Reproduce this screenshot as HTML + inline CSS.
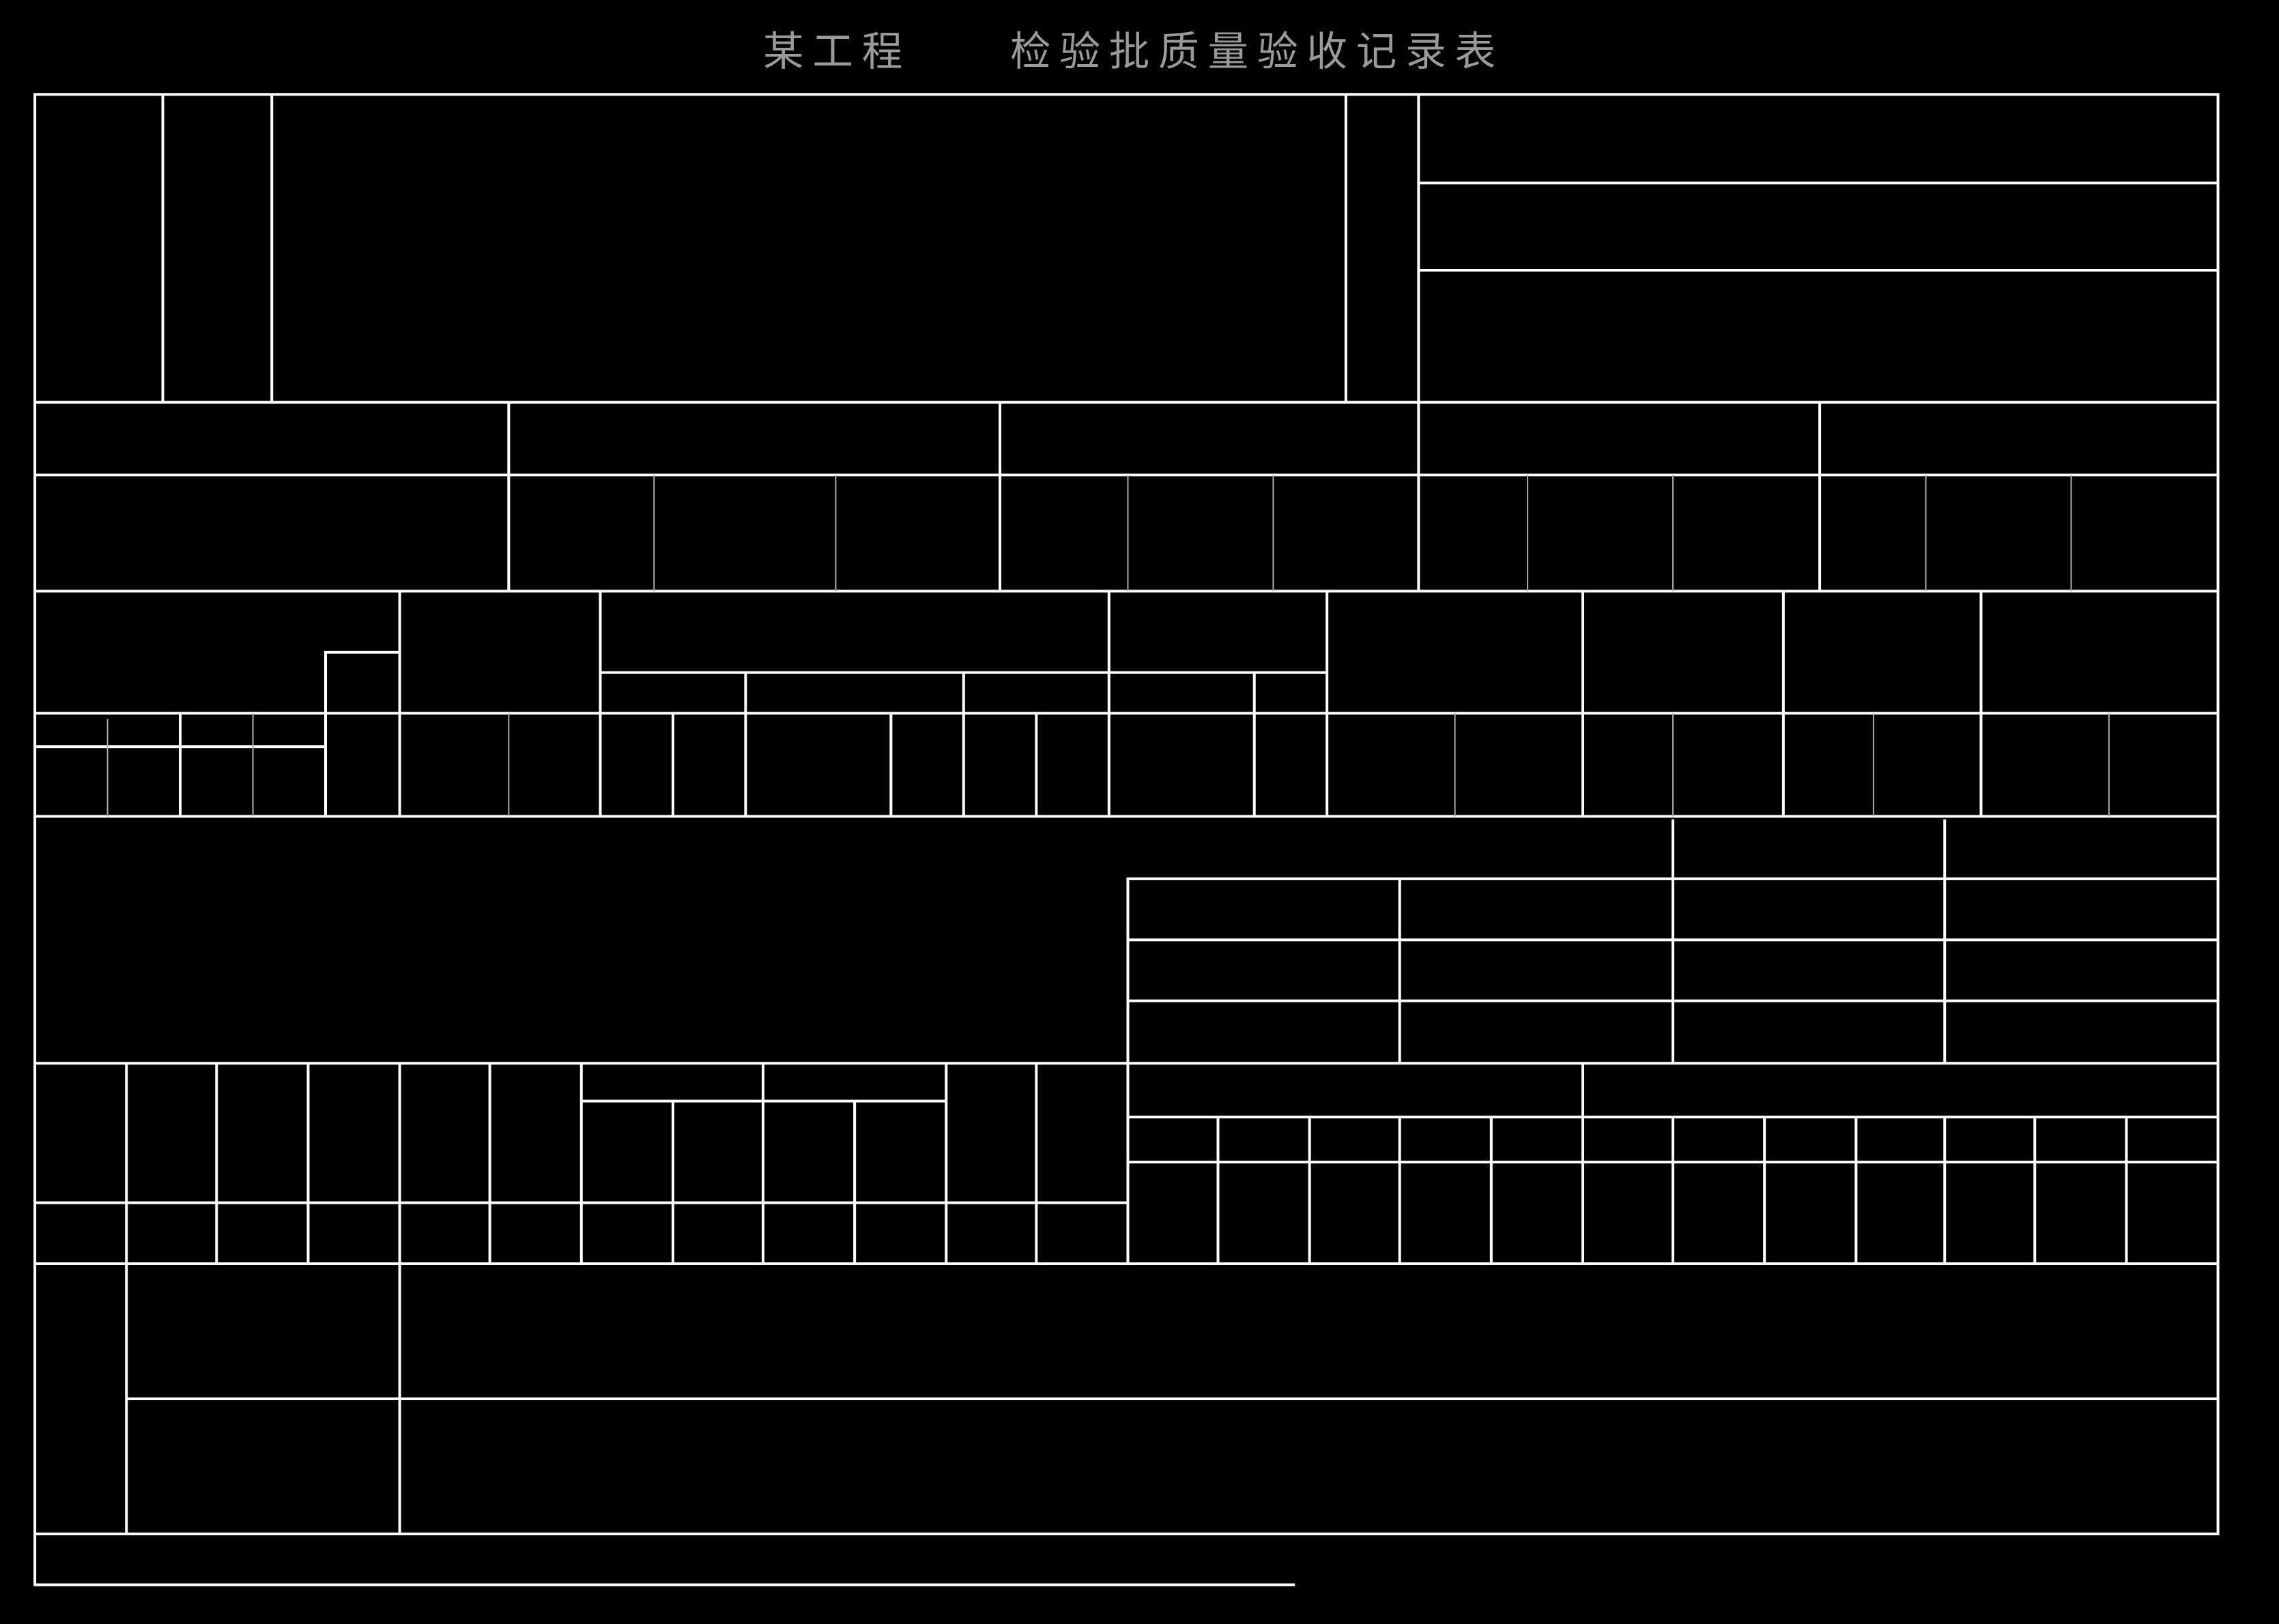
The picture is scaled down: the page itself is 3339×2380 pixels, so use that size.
<!DOCTYPE html>
<html><head><meta charset="utf-8"><style>
html,body{margin:0;padding:0;background:#000;width:3339px;height:2380px;overflow:hidden}
svg{display:block}
</style></head><body>
<svg width="3339" height="2380" viewBox="0 0 1568 1118" preserveAspectRatio="none" xmlns="http://www.w3.org/2000/svg">
<rect width="1568" height="1118" fill="#000"/>
<text x="780" y="45" fill="#9a9a9a" font-family="Liberation Sans, Noto Sans CJK SC, sans-serif" font-size="28" text-anchor="middle" letter-spacing="6">某工程　　检验批质量验收记录表</text>
<g stroke="#fff" stroke-width="4" vector-effect="non-scaling-stroke" fill="none" stroke-linecap="square">
<path vector-effect="non-scaling-stroke" d="
M24 65H1526 M24 277H1526 M24 327H1526 M24 407H1526 M24 491H1526 M24 562H1526 M24 732H1526 M24 870H1526 M24 1056H1526 M24 1091H890
M24 65V1090 M1526 65V1056
M112 65V277 M187 65V277 M926 65V277 M976 65V277
M976 126H1526 M976 186H1526
M350 277V407 M688 277V407 M976 277V407 M1252 277V407
M275 407V562 M413 407V562 M763 407V562 M913 407V562 M1089 407V562 M1227 407V562 M1363 407V562
M413 463H913 M224 449H275 M224 449V562 M24 514H224
M124 491V562 M463 491V562 M513 463V562 M613 491V562 M663 463V562 M713 491V562 M863 463V562
M776 605V870 M776 605H1526 M1151 565V732 M1338 565V732 M963 605V732 M776 647H1526 M776 689H1526
M87 732V870 M149 732V870 M212 732V870 M275 732V870 M337 732V870 M400 732V870 M525 732V870 M651 732V870 M713 732V870
M400 758H651 M463 758V870 M588 758V870 M24 828H776
M1089 732V870 M776 769H1526 M776 800H1526
M838 769V870 M901 769V870 M963 769V870 M1026 769V870 M1151 769V870 M1214 769V870 M1277 769V870 M1338 769V870 M1400 769V870 M1463 769V870
M87 870V1056 M275 870V1056 M87 963H1526
"/>
</g>
<g stroke="#aaa" stroke-width="2" fill="none">
<path vector-effect="non-scaling-stroke" d="
M450 327V407 M575 327V407 M776 327V407 M876 327V407 M1051 327V407 M1151 327V407 M1325 327V407 M1425 327V407
M74 495V562 M174 491V562 M350 491V562 M1001 491V562 M1151 491V562 M1289 491V562 M1451 491V562
"/>
</g>
</svg>
</body></html>
